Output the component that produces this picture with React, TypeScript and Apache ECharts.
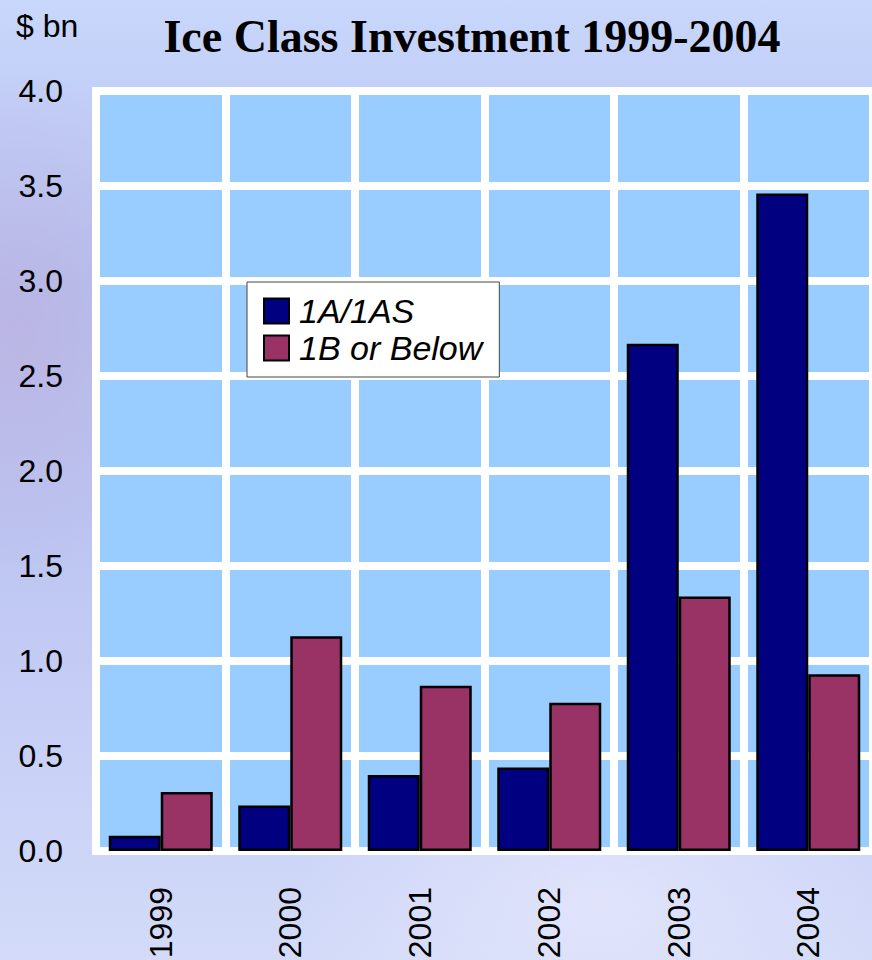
import React, { useEffect, useRef } from "react";
import * as echarts from "echarts";

const years = ["1999", "2000", "2001", "2002", "2003", "2004"];
const iceClass1A = [0.08, 0.24, 0.4, 0.44, 2.67, 3.46];
const iceClass1B = [0.31, 1.13, 0.87, 0.78, 1.34, 0.93];
const seriesNames = ["1A/1AS", "1B or Below"];
const titleText = "Ice Class Investment 1999-2004";
const unitText = "$ bn";

export default function App() {
  const ref = useRef<HTMLDivElement>(null);
  useEffect(() => {
    if (!ref.current) return;
    const chart = echarts.init(ref.current, null, { renderer: "svg" });
    const sans = "'Liberation Sans', Arial, sans-serif";
    chart.setOption({
      animation: false,
      backgroundColor: "transparent",
      graphic: [
        {
          type: "text",
          x: 472,
          y: 36,
          style: {
            text: titleText,
            font: "bold 46px 'Liberation Serif', 'Times New Roman', serif",
            fill: "#000",
            align: "center",
            verticalAlign: "middle",
          },
        },
        {
          type: "text",
          x: 16,
          y: 26,
          style: {
            text: unitText,
            font: "32px 'Liberation Sans', Arial, sans-serif",
            fill: "#000",
            align: "left",
            verticalAlign: "middle",
          },
        },
      ],
      legend: {
        orient: "vertical",
        left: 247,
        top: 282,
        backgroundColor: "#fff",
        borderColor: "#444",
        borderWidth: 1,
        padding: [12, 17, 12, 16],
        itemWidth: 25,
        itemHeight: 25,
        itemGap: 3,
        icon: "rect",
        textStyle: {
          fontFamily: sans,
          fontSize: 34,
          fontStyle: "italic",
          color: "#000",
          padding: [0, 0, 0, 5],
        },
        data: seriesNames,
      },
      grid: {
        left: 96,
        top: 91,
        width: 777,
        height: 760,
        show: true,
        backgroundColor: "#99CCFF",
        borderColor: "#fff",
        borderWidth: 8,
        containLabel: false,
        outerBoundsMode: "none",
      },
      xAxis: {
        type: "category",
        data: years,
        boundaryGap: true,
        axisLine: { show: false },
        axisTick: { show: false },
        axisLabel: {
          rotate: 90,
          margin: 36,
          fontFamily: sans,
          fontSize: 32,
          color: "#000",
          interval: 0,
        },
        splitLine: { show: true, lineStyle: { color: "#fff", width: 8 } },
      },
      yAxis: {
        type: "value",
        min: 0,
        max: 4,
        interval: 0.5,
        axisLine: { show: false },
        axisTick: { show: false },
        axisLabel: {
          margin: 33,
          fontFamily: sans,
          fontSize: 32,
          color: "#000",
          formatter: (v: number) => v.toFixed(1),
        },
        splitLine: { show: true, lineStyle: { color: "#fff", width: 8 } },
      },
      series: [
        {
          name: seriesNames[0],
          type: "bar",
          data: iceClass1A,
          barWidth: 52,
          barGap: "0%",
          itemStyle: { color: "#000080", borderColor: "#000", borderWidth: 2.5 },
        },
        {
          name: seriesNames[1],
          type: "bar",
          data: iceClass1B,
          barWidth: 52,
          barGap: "0%",
          itemStyle: { color: "#993366", borderColor: "#000", borderWidth: 2.5 },
        },
      ],
    });
    return () => chart.dispose();
  }, []);
  return (
    <div
      style={{
        position: "absolute",
        left: 0,
        top: 0,
        width: 872,
        height: 960,
        overflow: "hidden",
        background:
          "radial-gradient(ellipse 160px 260px at 20px 330px, rgba(190,170,215,0.5), rgba(190,170,215,0) 100%), radial-gradient(ellipse 300px 200px at 600px 900px, rgba(235,235,252,0.6), rgba(235,235,252,0) 100%), linear-gradient(180deg, #c8d7fb 0%, #c1cdf7 12%, #b6c0f0 30%, #bcc5f2 55%, #c9d1f7 80%, #d3dbf9 100%)",
      }}
    >
      <div ref={ref} style={{ width: 872, height: 960 }} />
    </div>
  );
}
